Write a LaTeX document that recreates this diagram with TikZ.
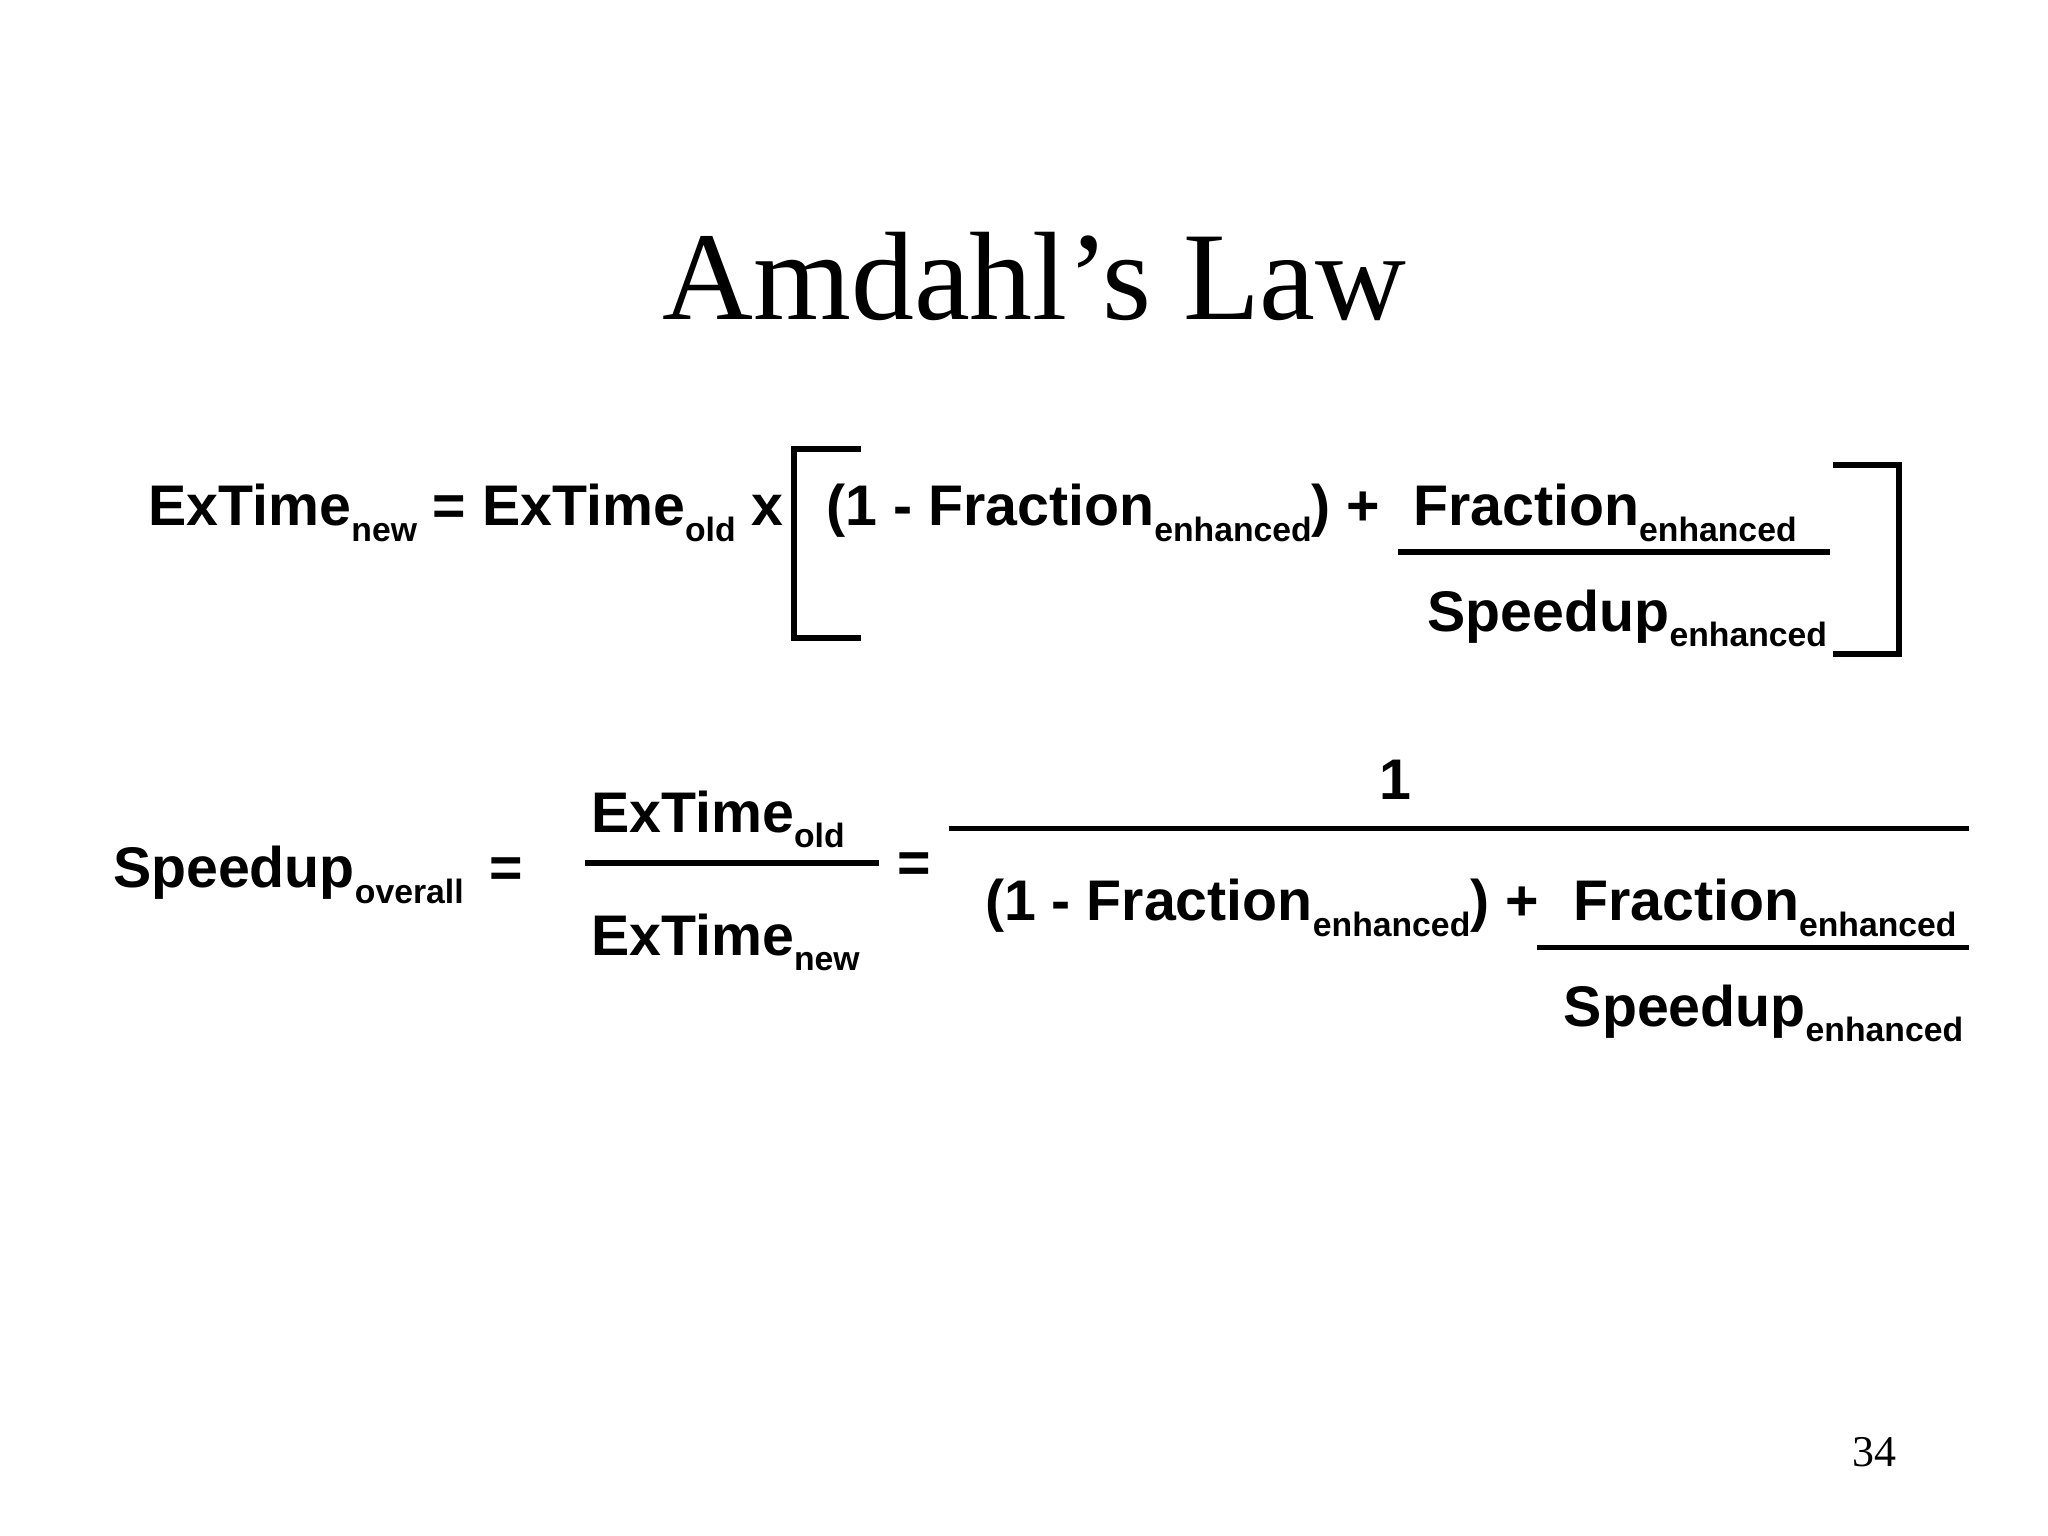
\documentclass[tikz,border=0pt]{standalone}
\usepackage{fontspec}
\setmainfont{Liberation Sans}
\newfontfamily\titlefont{Liberation Serif}
\newcommand{\sbs}[1]{\raisebox{-0.5ex}{\fontsize{9.6}{10}\selectfont #1}}
\begin{document}
\begin{tikzpicture}[x=0.013213cm,y=-0.013213cm,
  txt/.style={anchor=base west,inner sep=0pt,font=\fontsize{16.3}{19}\selectfont\bfseries},
  ln/.style={line width=1.6pt}]
\useasboundingbox (0,0) rectangle (1550,1162.5);
\node[anchor=base,inner sep=0pt,font=\titlefont\fontsize{35.8}{40}\selectfont] (title) at (783,242) {Amdahl’s Law};
% line 1
\node[txt] (l1a) at (112,398) {ExTime\sbs{new} = ExTime\sbs{old} x};
\draw[ln] (652,340) -- (601,340) -- (601,483) -- (652,483);
\node[txt] (l1b) at (625,398) {(1 - Fraction\sbs{enhanced}) +};
\node[txt] (l1n) at (1069,398) {Fraction\sbs{enhanced}};
\draw[ln] (1058,418) -- (1385,418);
\node[txt] (l1d) at (1080,478) {Speedup\sbs{enhanced}};
\draw[ln] (1387,352) -- (1437,352) -- (1437,495) -- (1387,495);
% line 2
\node[txt] (s) at (85,672) {Speedup\sbs{overall}};
\node[txt] (eq1) at (370,672) {=};
\node[txt] (n1) at (447,630) {ExTime\sbs{old}};
\draw[ln] (443,653) -- (665,653);
\node[txt] (d1) at (447,723) {ExTime\sbs{new}};
\node[txt] (eq2) at (679,668) {=};
\node[anchor=base,inner sep=0pt,font=\fontsize{16.3}{19}\selectfont\bfseries] (one) at (1056,605) {1};
\draw[ln] (718,627) -- (1490,627);
\node[txt] (l2b) at (745,697) {(1 - Fraction\sbs{enhanced}) +};
\node[txt] (l2n) at (1190,697) {Fraction\sbs{enhanced}};
\draw[ln] (1163,717) -- (1490,717);
\node[txt] (l2d) at (1183,777) {Speedup\sbs{enhanced}};
\node[anchor=base,inner sep=0pt,font=\titlefont\fontsize{12.5}{14}\selectfont] (pg) at (1419,1110) {34};
\end{tikzpicture}
\end{document}
